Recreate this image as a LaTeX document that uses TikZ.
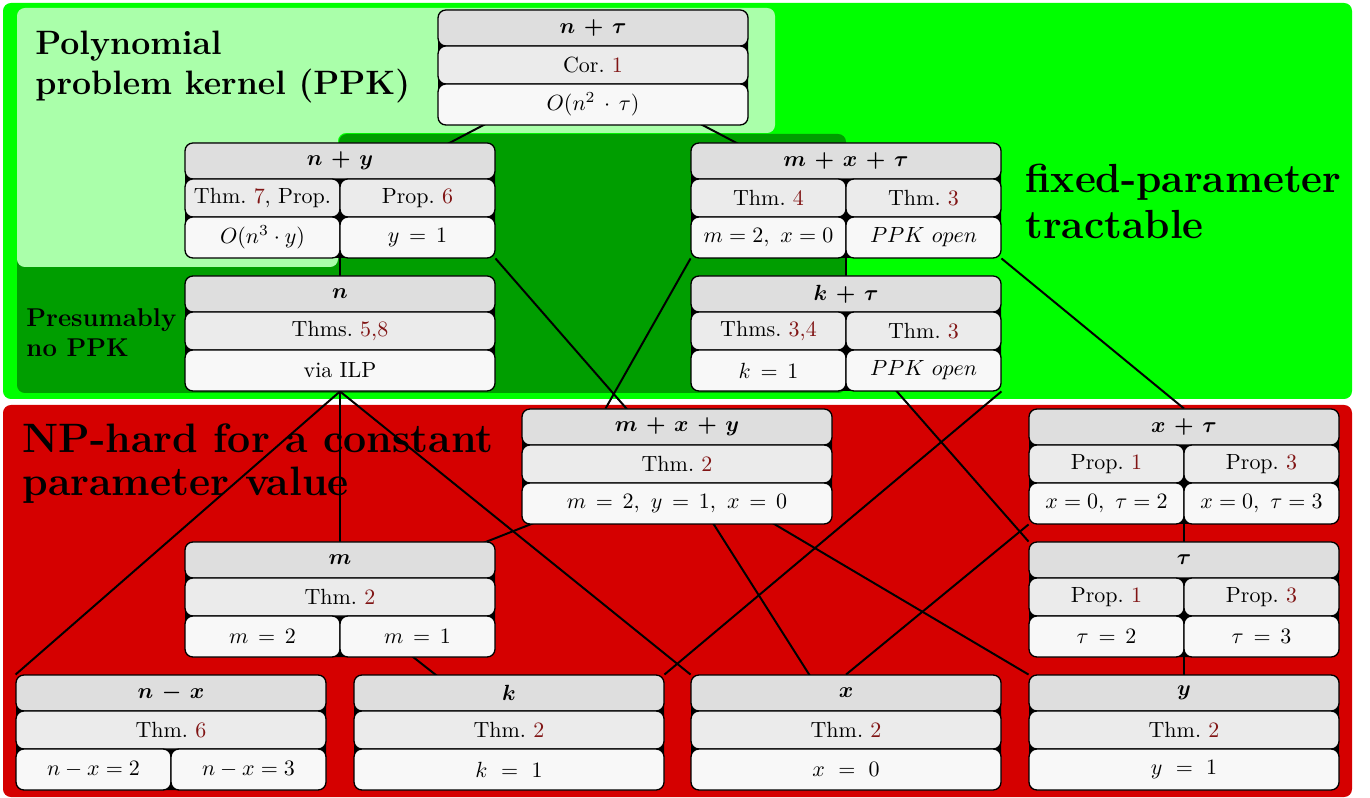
\documentclass[tikz,border=0pt]{standalone}
\usepackage{xcolor}
\usepackage{bm}
\usetikzlibrary{calc}
\definecolor{brightg}{RGB}{0,255,0}
\definecolor{lightg}{RGB}{170,255,170}
\definecolor{darkg}{RGB}{0,158,0}
\definecolor{npred}{RGB}{213,0,0}
\definecolor{hdr}{gray}{0.87}
\definecolor{rowa}{gray}{0.92}
\definecolor{rowb}{gray}{0.973}
\definecolor{refc}{RGB}{128,20,20}
\pgfdeclarelayer{regions}
\pgfdeclarelayer{links}
\pgfsetlayers{regions,links,main}
\newcommand\rf[1]{\textcolor{refc}{#1}}
\tikzset{
  boxbg/.style={fill=black, rounded corners=3.6pt, inner sep=0pt, minimum width=141.05pt, minimum height=52.325pt},
  cellh/.style={fill=hdr, draw=black, line width=0.6pt, rounded corners=3.6pt},
  cella/.style={fill=rowa, draw=black, line width=0.6pt, rounded corners=3.6pt},
  cellb/.style={fill=rowb, draw=black, line width=0.6pt, rounded corners=3.6pt},
  celltext/.style={inner sep=1pt},
  link/.style={line width=0.9pt, draw=black},
  rlabel/.style={anchor=base west, inner sep=0pt},
}
\begin{document}
\begin{tikzpicture}[x=0.455pt,y=-0.455pt]
\useasboundingbox (0,0) rectangle (1370,798);
\begin{pgfonlayer}{regions}
\fill[brightg, rounded corners=3.6pt] (3,3) rectangle (1352,399);
\fill[npred, rounded corners=3.6pt] (3,405) rectangle (1352,797);
\fill[darkg, rounded corners=3.6pt] (17,393) -- (17,255) -- (339,255) -- (339,134) -- (846,134) -- (846,393) -- cycle;
\fill[lightg, rounded corners=3.6pt] (17,267) -- (17,8) -- (775,8) -- (775,133) -- (338,133) -- (338,267) -- cycle;
\node[rlabel, font=\fontsize{15.4}{18}\selectfont\bfseries] (l1a) at (35,55) {Polynomial};
\node[rlabel, font=\fontsize{15.4}{18}\selectfont\bfseries] (l1b) at (35,95) {problem kernel (PPK)};
\node[rlabel, font=\fontsize{11.7}{14}\selectfont\bfseries] (l2a) at (26,327) {Presumably};
\node[rlabel, font=\fontsize{11.7}{14}\selectfont\bfseries] (l2b) at (26,357) {no PPK};
\node[rlabel, font=\fontsize{18.5}{22}\selectfont\bfseries] (l3a) at (1025,193) {fixed-parameter};
\node[rlabel, font=\fontsize{18.5}{22}\selectfont\bfseries] (l3b) at (1025,239) {tractable};
\node[rlabel, font=\fontsize{18.7}{22}\selectfont\bfseries] (l4a) at (22,453) {NP-hard for a constant};
\node[rlabel, font=\fontsize{18.7}{22}\selectfont\bfseries] (l4b) at (22,496) {parameter value};
\end{pgfonlayer}
% ---- n + tau
\begin{scope}[shift={(438,10)}]
\node[boxbg] (nt) at (155,57.5) {};
\draw[cellh] (0,0) rectangle (310,36);
\node[celltext] (ntH) at (155,18) {$\bm{n\,+\,\tau}$};
\draw[cella] (0,36) rectangle (310,74);
\node[celltext] (ntA) at (155,55) {Cor.~\rf{1}};
\draw[cellb] (0,74) rectangle (310,115);
\node[celltext] (ntC) at (155,94.5) {$O(n^2\,\cdot\,\tau)$};
\end{scope}
% ---- n + y
\begin{scope}[shift={(185,143)}]
\node[boxbg] (ny) at (155,57.5) {};
\draw[cellh] (0,0) rectangle (310,36);
\node[celltext] (nyH) at (155,18) {$\bm{n\,+\,y}$};
\draw[cella] (0,36) rectangle (155,74);
\draw[cella] (155,36) rectangle (310,74);
\node[celltext] (nyA) at (77.5,55) {Thm.~\rf{7}, Prop.};
\node[celltext] (nyB) at (232.5,55) {Prop.~\rf{6}};
\draw[cellb] (0,74) rectangle (155,115);
\draw[cellb] (155,74) rectangle (310,115);
\node[celltext] (nyC) at (77.5,94.5) {$O(n^3\cdot y)$};
\node[celltext] (nyD) at (232.5,94.5) {$y\,=\,1$};
\end{scope}
% ---- m + x + tau
\begin{scope}[shift={(691,143)}]
\node[boxbg] (mxt) at (155,57.5) {};
\draw[cellh] (0,0) rectangle (310,36);
\node[celltext] (mxtH) at (155,18) {$\bm{m\,+\,x\,+\,\tau}$};
\draw[cella] (0,36) rectangle (155,74);
\draw[cella] (155,36) rectangle (310,74);
\node[celltext] (mxtA) at (77.5,55) {Thm.~\rf{4}};
\node[celltext] (mxtB) at (232.5,55) {Thm.~\rf{3}};
\draw[cellb] (0,74) rectangle (155,115);
\draw[cellb] (155,74) rectangle (310,115);
\node[celltext] (mxtC) at (77.5,94.5) {$m=2,\ x=0$};
\node[celltext] (mxtD) at (232.5,94.5) {$PPK\ open$};
\end{scope}
% ---- n
\begin{scope}[shift={(185,276)}]
\node[boxbg] (n) at (155,57.5) {};
\draw[cellh] (0,0) rectangle (310,36);
\node[celltext] (nH) at (155,18) {$\bm{n}$};
\draw[cella] (0,36) rectangle (310,74);
\node[celltext] (nA) at (155,55) {Thms.~\rf{5,8}};
\draw[cellb] (0,74) rectangle (310,115);
\node[celltext] (nC) at (155,94.5) {via ILP};
\end{scope}
% ---- k + tau
\begin{scope}[shift={(691,276)}]
\node[boxbg] (kt) at (155,57.5) {};
\draw[cellh] (0,0) rectangle (310,36);
\node[celltext] (ktH) at (155,18) {$\bm{k\,+\,\tau}$};
\draw[cella] (0,36) rectangle (155,74);
\draw[cella] (155,36) rectangle (310,74);
\node[celltext] (ktA) at (77.5,55) {Thms.~\rf{3,4}};
\node[celltext] (ktB) at (232.5,55) {Thm.~\rf{3}};
\draw[cellb] (0,74) rectangle (155,115);
\draw[cellb] (155,74) rectangle (310,115);
\node[celltext] (ktC) at (77.5,94.5) {$k\,=\,1$};
\node[celltext] (ktD) at (232.5,94.5) {$PPK\ open$};
\end{scope}
% ---- m + x + y
\begin{scope}[shift={(522,409)}]
\node[boxbg] (mxy) at (155,57.5) {};
\draw[cellh] (0,0) rectangle (310,36);
\node[celltext] (mxyH) at (155,18) {$\bm{m\,+\,x\,+\,y}$};
\draw[cella] (0,36) rectangle (310,74);
\node[celltext] (mxyA) at (155,55) {Thm.~\rf{2}};
\draw[cellb] (0,74) rectangle (310,115);
\node[celltext] (mxyC) at (155,94.5) {$m\,=\,2,\ y\,=\,1,\ x\,=\,0$};
\end{scope}
% ---- x + tau
\begin{scope}[shift={(1029,409)}]
\node[boxbg] (xt) at (155,57.5) {};
\draw[cellh] (0,0) rectangle (310,36);
\node[celltext] (xtH) at (155,18) {$\bm{x\,+\,\tau}$};
\draw[cella] (0,36) rectangle (155,74);
\draw[cella] (155,36) rectangle (310,74);
\node[celltext] (xtA) at (77.5,55) {Prop.~\rf{1}};
\node[celltext] (xtB) at (232.5,55) {Prop.~\rf{3}};
\draw[cellb] (0,74) rectangle (155,115);
\draw[cellb] (155,74) rectangle (310,115);
\node[celltext] (xtC) at (77.5,94.5) {$x=0,\ \tau=2$};
\node[celltext] (xtD) at (232.5,94.5) {$x=0,\ \tau=3$};
\end{scope}
% ---- m
\begin{scope}[shift={(185,542)}]
\node[boxbg] (m) at (155,57.5) {};
\draw[cellh] (0,0) rectangle (310,36);
\node[celltext] (mH) at (155,18) {$\bm{m}$};
\draw[cella] (0,36) rectangle (310,74);
\node[celltext] (mA) at (155,55) {Thm.~\rf{2}};
\draw[cellb] (0,74) rectangle (155,115);
\draw[cellb] (155,74) rectangle (310,115);
\node[celltext] (mC) at (77.5,94.5) {$m\,=\,2$};
\node[celltext] (mD) at (232.5,94.5) {$m\,=\,1$};
\end{scope}
% ---- tau
\begin{scope}[shift={(1029,542)}]
\node[boxbg] (tau) at (155,57.5) {};
\draw[cellh] (0,0) rectangle (310,36);
\node[celltext] (tauH) at (155,18) {$\bm{\tau}$};
\draw[cella] (0,36) rectangle (155,74);
\draw[cella] (155,36) rectangle (310,74);
\node[celltext] (tauA) at (77.5,55) {Prop.~\rf{1}};
\node[celltext] (tauB) at (232.5,55) {Prop.~\rf{3}};
\draw[cellb] (0,74) rectangle (155,115);
\draw[cellb] (155,74) rectangle (310,115);
\node[celltext] (tauC) at (77.5,94.5) {$\tau\,=\,2$};
\node[celltext] (tauD) at (232.5,94.5) {$\tau\,=\,3$};
\end{scope}
% ---- n - x
\begin{scope}[shift={(16,675)}]
\node[boxbg] (nx) at (155,57.5) {};
\draw[cellh] (0,0) rectangle (310,36);
\node[celltext] (nxH) at (155,18) {$\bm{n\,-\,x}$};
\draw[cella] (0,36) rectangle (310,74);
\node[celltext] (nxA) at (155,55) {Thm.~\rf{6}};
\draw[cellb] (0,74) rectangle (155,115);
\draw[cellb] (155,74) rectangle (310,115);
\node[celltext] (nxC) at (77.5,94.5) {$n-x=2$};
\node[celltext] (nxD) at (232.5,94.5) {$n-x=3$};
\end{scope}
% ---- k
\begin{scope}[shift={(354,675)}]
\node[boxbg] (k) at (155,57.5) {};
\draw[cellh] (0,0) rectangle (310,36);
\node[celltext] (kH) at (155,18) {$\bm{k}$};
\draw[cella] (0,36) rectangle (310,74);
\node[celltext] (kA) at (155,55) {Thm.~\rf{2}};
\draw[cellb] (0,74) rectangle (310,115);
\node[celltext] (kC) at (155,94.5) {$k\ =\ 1$};
\end{scope}
% ---- x
\begin{scope}[shift={(691,675)}]
\node[boxbg] (x) at (155,57.5) {};
\draw[cellh] (0,0) rectangle (310,36);
\node[celltext] (xH) at (155,18) {$\bm{x}$};
\draw[cella] (0,36) rectangle (310,74);
\node[celltext] (xA) at (155,55) {Thm.~\rf{2}};
\draw[cellb] (0,74) rectangle (310,115);
\node[celltext] (xC) at (155,94.5) {$x\ =\ 0$};
\end{scope}
% ---- y
\begin{scope}[shift={(1029,675)}]
\node[boxbg] (y) at (155,57.5) {};
\draw[cellh] (0,0) rectangle (310,36);
\node[celltext] (yH) at (155,18) {$\bm{y}$};
\draw[cella] (0,36) rectangle (310,74);
\node[celltext] (yA) at (155,55) {Thm.~\rf{2}};
\draw[cellb] (0,74) rectangle (310,115);
\node[celltext] (yC) at (155,94.5) {$y\ =\ 1$};
\end{scope}
% ---- connectors
\begin{pgfonlayer}{links}
\draw[link] (nt.center) -- (ny.center);
\draw[link] (nt.center) -- (mxt.center);
\draw[link] (ny.center) -- (n.center);
\draw[link] (ny.south east) -- (mxy.center);
\draw[link] (mxt.south west) -- ($(mxy.north west)!0.27!(mxy.north east)$);
\draw[link] (mxt.center) -- (kt.center);
\draw[link] (mxt.south east) -- (xt.north);
\draw[link] (kt.center) -- (tau.north west);
\draw[link] (kt.south east) -- (k.north east);
\draw[link] (n.south) -- (nx.north west);
\draw[link] (n.center) -- (m.center);
\draw[link] (n.south) -- (x.north west);
\draw[link] (mxy.center) -- (m.center);
\draw[link] (mxy.center) -- (x.center);
\draw[link] (mxy.center) -- (y.north west);
\draw[link] (xt.south west) -- (x.north);
\draw[link] (xt.center) -- (tau.center);
\draw[link] (tau.center) -- (y.center);
\draw[link] (m.center) -- (k.center);
\end{pgfonlayer}
\end{tikzpicture}
\end{document}
